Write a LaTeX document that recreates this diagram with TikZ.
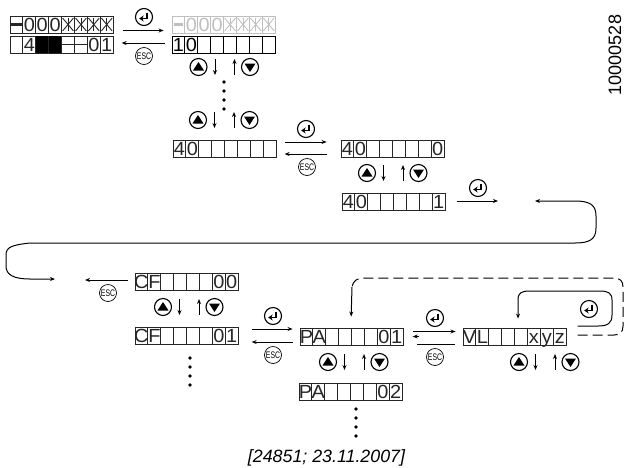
\documentclass[tikz,border=0pt]{standalone}
\usepackage{fontspec}
\setmainfont{Liberation Sans}
\usepackage{tikz}
\usetikzlibrary{arrows.meta}

% display with eight cells: name, left, top, cell/text list
\newcommand{\lcd}[5][black!85]{
  \foreach \i in {0,...,7}
    \node[cell, draw=#1] (#2-\i) at (#3+\i*12.9+6.45,#4+8.5) {};
  \foreach \i/\t in {#5}
    \node[celltext, text=#1] (#2-t\i) at (#2-\i) {\scalebox{1.05}[1]{\t}};
}
% segmented star in one cell
\newcommand{\lcdstar}[3][black!85]{
  \foreach \i in {#3} {
    \draw[draw=#1, line width=.9pt] ([shift={(1.5,2.5)}]#2-\i.north west) -- ([shift={(-1.5,-2.5)}]#2-\i.south east);
    \draw[draw=#1, line width=.9pt] ([shift={(-1.5,2.5)}]#2-\i.north east) -- ([shift={(1.5,-2.5)}]#2-\i.south west);
    \draw[draw=#1, line width=.9pt] ([yshift=-2.5pt]#2-\i.north) -- ([yshift=2.5pt]#2-\i.south);
  }
}
\newcommand{\lcddash}[4][black!85]{
  \foreach \i in {#3}
    \draw[draw=#1, #4] (#2-\i.west) -- (#2-\i.east);
}
% keys
\newcommand{\enterkey}[3]{
  \node[keybtn] (#1) at (#2,#3) {};
  \draw[line width=1.8pt, -{Stealth[length=4.5pt,width=6pt]}] ([shift={(3.2,-4.5)}]#1.center) -- ++(0,6) -- ++(-8,0);
}
\newcommand{\esckey}[3]{
  \node[keybtn, line width=.7pt, font=\fontsize{9.5}{10}\selectfont] (#1) at (#2,#3) {\scalebox{.72}[1]{ESC}};
}
\newcommand{\updown}[3]{
  \node[keybtn] (#1u) at (#2,#3) {};
  \fill ([shift={(-5.5,3.5)}]#1u.center) -- ([shift={(5.5,3.5)}]#1u.center) -- ([shift={(0,-5)}]#1u.center) -- cycle;
  \node[keybtn] (#1d) at (#2+51.5,#3) {};
  \fill ([shift={(-5.5,-3.5)}]#1d.center) -- ([shift={(5.5,-3.5)}]#1d.center) -- ([shift={(0,5)}]#1d.center) -- cycle;
  \draw[flow] ([shift={(16.5,-8)}]#1u.center) -- ++(0,16);
  \draw[flow] ([shift={(-15.5,8)}]#1d.center) -- ++(0,-16);
}
\newcommand{\dotcol}[3]{
  \foreach \k in {0,...,3}
    \node[dotmark] (#1-\k) at (#2,#3+\k*9) {};
}

\begin{document}
\begin{tikzpicture}[
    x=1pt, y=-1pt,
    cell/.style     = {draw, line width=.9pt, minimum width=12.9pt, minimum height=17pt, inner sep=0pt},
    celltext/.style = {inner sep=0pt, text height=13.6pt, text depth=0pt, font=\fontsize{19}{20}\selectfont},
    keybtn/.style   = {circle, draw, line width=1.1pt, minimum size=17pt, inner sep=0pt},
    dotmark/.style  = {circle, fill, minimum size=3.8pt, inner sep=0pt},
    flow/.style     = {-{Stealth[length=5pt,width=4pt]}, line width=1pt}
  ]
  \useasboundingbox (0,0) rectangle (624,467);

  % first column of displays
  \lcd{topA}{10}{16}{1/0,2/0,3/0}
  \lcdstar{topA}{4,5,6,7}
  \lcddash{topA}{0}{line width=2.2pt}
  \lcd{botA}{10}{36}{1/4,6/0,7/1}
  \foreach \i in {2,3}
    \fill[black] ([shift={(.9,.5)}]botA-\i.north west) rectangle ([shift={(-.9,-.5)}]botA-\i.south east);
  \lcddash{botA}{4,5}{line width=1.1pt}
  \lcd[black!25]{topB}{172}{16}{1/0,2/0,3/0}
  \lcdstar[black!25]{topB}{4,5,6,7}
  \lcddash[black!25]{topB}{0}{line width=2.2pt, shorten <=2.5pt, shorten >=2.5pt}
  \lcd[black]{botB}{172}{36}{0/1,1/0}
  \enterkey{enterA}{144}{17}
  \esckey{escA}{144}{56}
  \draw[flow] ([shift={(9,6)}]topA-7.east) -- ([shift={(-8,6)}]topB-0.west);
  \draw[flow] ([shift={(-7,-1.5)}]botB-0.west) -- ([shift={(8,-1.5)}]botA-7.east);
  \updown{stepA}{198.5}{67}
  \dotcol{dotsA}{224}{82}
  \updown{stepB}{198}{120}

  % parameter 40
  \lcd{parA}{173}{140}{0/4,1/0}
  \lcd{parB}{341}{140}{0/4,1/0,7/0}
  \lcd{parC}{342}{193}{0/4,1/0,7/1}
  \enterkey{enterB}{306}{129}
  \esckey{escB}{307}{167}
  \draw[flow] ([shift={(8,-6.5)}]parA-7.east) -- ([shift={(-14,-6.5)}]parB-0.west);
  \draw[flow] ([shift={(-14,5.5)}]parB-0.west) -- ([shift={(8,5.5)}]parA-7.east);
  \updown{stepC}{367}{173}
  \enterkey{enterC}{478}{188}
  \coordinate (exitA) at (498,201);
  \draw[flow] ([shift={(11,-.5)}]parC-7.east) -- (exitA);

  % long way round
  \coordinate (wrapR) at (535,201);
  \coordinate (wrapL) at (55,279);
  \draw[{Stealth[length=5pt,width=4pt]}-{Stealth[length=5pt,width=4pt]}, line width=1pt] (wrapR) -- (575,201)
    .. controls (590,201) and (596,205) .. (596,216) -- (596,228)
    .. controls (596,239) and (590,243) .. (575,243) -- (30,243)
    .. controls (12,245) and (6,247) .. (6,255) -- (6,266)
    .. controls (6,275) and (14,279) .. (30,279) -- (wrapL);

  % CF, PA and VL
  \lcd{cfA}{135}{273}{0/C,1/F,6/0,7/0}
  \lcd{cfB}{135}{327}{0/C,1/F,6/0,7/1}
  \lcd{paA}{300}{328}{0/P,1/A,6/0,7/1}
  \lcd{paB}{299}{383}{0/P,1/A,6/0,7/2}
  \lcd{vlA}{463}{328}{0/V,1/L,5/x,6/y,7/z}
  \coordinate (cfOut) at (85,280);
  \draw[flow] ([shift={(-7,-1.5)}]cfA-0.west) -- (cfOut);
  \esckey{escC}{108}{293}
  \updown{stepD}{163}{307}
  \dotcol{dotsB}{190}{358}
  \enterkey{enterD}{273}{316}
  \esckey{escD}{273}{355}
  \draw[flow] ([shift={(13,-6.5)}]cfB-7.east) -- ([shift={(-7,-7.5)}]paA-0.west);
  \draw[flow] ([shift={(-7,5.5)}]paA-0.west) -- ([shift={(13,6.5)}]cfB-7.east);
  \updown{stepE}{328}{362}
  \dotcol{dotsC}{356}{409}
  \enterkey{enterE}{435}{318}
  \esckey{escE}{435}{357}
  \draw[flow] ([shift={(9,-5)}]paA-7.east) -- ([shift={(-7,-5)}]vlA-0.west);
  \draw[line width=1pt] ([shift={(-8,7.5)}]vlA-0.west) -- ([shift={(13,7.5)}]paA-7.east);
  \draw[flow] ([shift={(15,0)}]paA-7.east) -- ([shift={(9,0)}]paA-7.east);
  \updown{stepF}{519}{362}

  % loops on VL
  \enterkey{enterF}{589}{309}
  \draw[flow] ([shift={(11,-10.5)}]vlA-7.east) -- (598,326)
    .. controls (608,326) and (612,323) .. (612,315) -- (612,300)
    .. controls (612,293) and (608,291) .. (600,291) -- (530,291)
    .. controls (521,291) and (518,293) .. (518,300) -- ([shift={(-3,-9)}]vlA-4.north);
  \coordinate (loopTop) at (352,287);
  \draw[line width=1pt, dash pattern=on 10pt off 5pt] ([shift={(11,-1.5)}]vlA-7.east) -- (614,335)
    .. controls (620,335) and (623,332) .. (623,326) -- (623,287)
    .. controls (623,281) and (620,278) .. (614,278) -- (364,278)
    .. controls (357,278) and (353,281) .. (loopTop);
  \draw[flow] (loopTop) -- ([shift={(0,-11)}]paA-4.north west);

  % captions
  \node[font=\itshape\fontsize{17.8}{20}\selectfont, inner sep=0pt] (stamp) at (326.5,458) {[24851; 23.11.2007]};
  \node[rotate=90, font=\fontsize{18}{20}\selectfont, inner sep=0pt] (docnum) at (615,55) {10000528};
\end{tikzpicture}
\end{document}
